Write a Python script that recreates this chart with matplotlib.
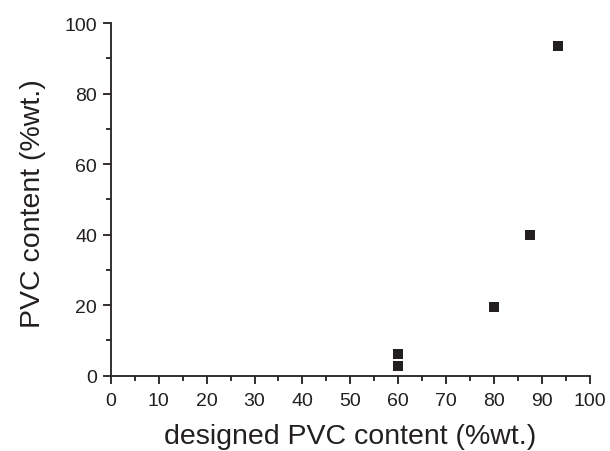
import matplotlib.pyplot as plt
from matplotlib.ticker import MultipleLocator

plt.rcParams['font.family'] = ['Liberation Sans', 'DejaVu Sans']

# designed vs measured PVC content
designed = [60, 60, 80, 87.5, 93.3]
measured = [2.7, 6.2, 19.4, 39.9, 93.4]

ink = '#231f20'

fig = plt.figure(figsize=(6.1, 4.52), dpi=100)
ax = fig.add_axes([0.1816, 0.1666, 0.7854, 0.7803])

ax.plot(designed, measured, linestyle='none', marker='s', markersize=7.3,
        color=ink, markeredgewidth=0, clip_on=False)

ax.set_xlim(0, 100)
ax.set_ylim(0, 100)
ax.xaxis.set_major_locator(MultipleLocator(10))
ax.xaxis.set_minor_locator(MultipleLocator(5))
ax.yaxis.set_major_locator(MultipleLocator(20))
ax.yaxis.set_minor_locator(MultipleLocator(10))

for side in ['top', 'right']:
    ax.spines[side].set_visible(False)
for side in ['left', 'bottom']:
    ax.spines[side].set_linewidth(1.3)
    ax.spines[side].set_color(ink)

ax.tick_params(which='major', direction='out', length=6, width=1.3, color=ink,
               labelsize=14, labelcolor=ink)
ax.tick_params(which='minor', direction='out', length=3.5, width=1.3, color=ink)
ax.tick_params(axis='x', which='major', pad=5.5)
ax.tick_params(axis='y', which='major', pad=4)

ax.set_xlabel('designed PVC content (%wt.)', fontsize=20.5, color=ink, labelpad=10.5)
ax.set_ylabel('PVC content (%wt.)', fontsize=20.5, color=ink, labelpad=13)
ax.yaxis.label.set_y(0.49)

fig.savefig('out.png', dpi=100)
